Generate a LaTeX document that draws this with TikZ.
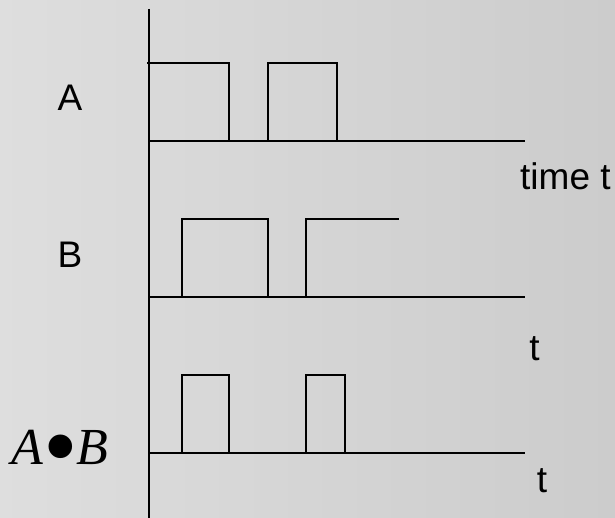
\documentclass[tikz,border=0pt]{standalone}
\usepackage{fontspec}
\setmainfont{Liberation Sans}
\newfontfamily\serifit{Liberation Serif}
\begin{document}
\begin{tikzpicture}[x=1pt,y=-1pt,
  wave/.style={line width=1.3pt, line join=miter},
  axisline/.style={line width=1.3pt},
  sig/.style={font=\fontsize{37}{37}\selectfont, inner sep=0pt, anchor=base},
  tlabel/.style={font=\fontsize{37}{37}\selectfont, inner sep=0pt, anchor=base}]
  % background
  \shade[left color=black!13, right color=black!20] (0,0) rectangle (615,518);
  \useasboundingbox (0,0) rectangle (615,518);

  % time axis origin and baselines
  \coordinate (top) at (149,9);
  \coordinate (bot) at (149,518);
  \coordinate (a0) at (149,141);  \coordinate (a1) at (525,141);
  \coordinate (b0) at (149,297);  \coordinate (b1) at (525,297);
  \coordinate (c0) at (149,453);  \coordinate (c1) at (525,453);

  \draw[axisline] (top) -- (bot);
  \draw[axisline] (a0) -- (a1);
  \draw[axisline] (b0) -- (b1);
  \draw[axisline] (c0) -- (c1);

  % signal A
  \draw[wave] (147,63) -- (229,63) -- (229,141);
  \draw[wave] (268,141) -- (268,63) -- (337,63) -- (337,141);
  % signal B
  \draw[wave] (182,297) -- (182,219) -- (268,219) -- (268,297);
  \draw[wave] (306,297) -- (306,219) -- (399,219);
  % A AND B
  \draw[wave] (182,453) -- (182,375) -- (229,375) -- (229,453);
  \draw[wave] (306,453) -- (306,375) -- (345,375) -- (345,453);

  % labels
  \node[sig] (la) at (70,111) {A};
  \node[sig] (lb) at (70,267.5) {B};
  \node[inner sep=0pt, anchor=base] (lab) at (60,464)
    {\fontsize{52}{52}\selectfont\serifit\itshape A\kern-0.01em\raisebox{-0.3em}{\scalebox{1.9}{•}}\kern-0.01em B};
  \node[tlabel, anchor=base west] (t1) at (520,190) {time t};
  \node[tlabel] (t2) at (534.5,360) {t};
  \node[tlabel] (t3) at (542,492) {t};
\end{tikzpicture}
\end{document}
